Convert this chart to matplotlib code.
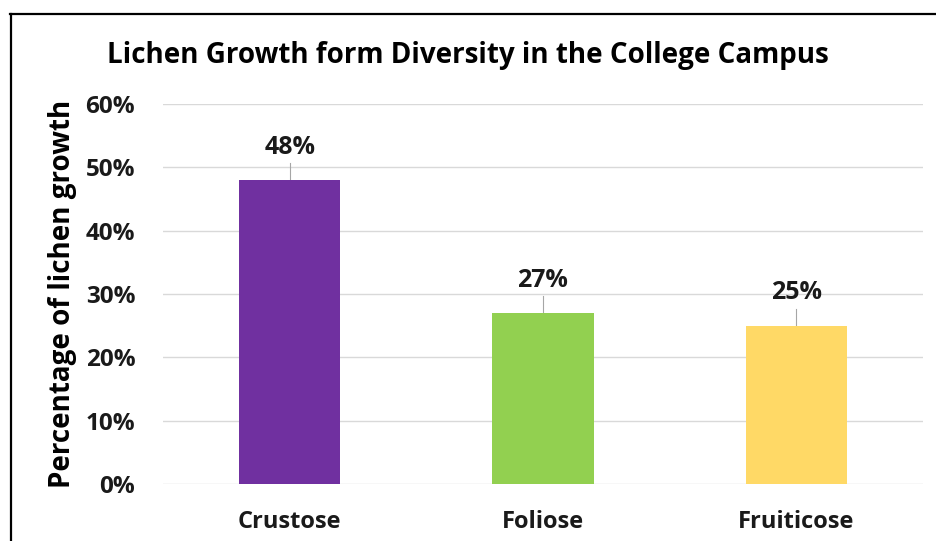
import matplotlib
matplotlib.use("Agg")
import matplotlib.pyplot as plt
from matplotlib.lines import Line2D
from matplotlib.ticker import FuncFormatter

categories = ["Crustose", "Foliose", "Fruiticose"]
values = [48, 27, 25]
colors = ["#7030A0", "#92D050", "#FFD966"]
yticks = [0, 10, 20, 30, 40, 50, 60]

plt.rcParams["font.family"] = ["Open Sans", "DejaVu Sans"]
plt.rcParams["font.weight"] = "bold"

fig = plt.figure(figsize=(9.36, 5.41), dpi=100)
ax = fig.add_axes([0.1741, 0.1054, 0.8120, 0.7024])

x = range(len(categories))
ax.bar(x, values, width=0.4, color=colors, zorder=3)

# data labels with small leader lines
for xi, v in zip(x, values):
    ax.plot([xi, xi], [v, v + 2.7], color="#a6a6a6", lw=0.8, zorder=2)
    ax.text(xi, v + 5.2, "%d%%" % v, ha="center", va="center",
            fontsize=18, fontweight="bold", color="#1a1a1a")

ax.set_xlim(-0.5, 2.5)
ax.set_ylim(0, 60)
ax.set_yticks(yticks)
ax.yaxis.set_major_formatter(FuncFormatter(lambda v, p: "%d%%" % v))
ax.set_xticks(list(x))
ax.set_xticklabels(categories)
ax.grid(axis="y", color="#d9d9d9", lw=1, zorder=0)
for s in ax.spines.values():
    s.set_visible(False)
ax.tick_params(axis="y", length=0, labelsize=17.5, colors="#1a1a1a", pad=20)
ax.tick_params(axis="x", length=0, labelsize=17, colors="#1a1a1a", pad=19)

ax.set_ylabel("Percentage of lichen growth", fontsize=20, fontweight="bold",
              color="black", labelpad=6)
fig.text(0.5, 1 - 55 / 541, "Lichen Growth form Diversity in the College Campus",
         ha="center", va="center", fontsize=20, fontweight="bold")

# chart-area border (left and top edges visible)
fig.add_artist(Line2D([10.5 / 936, 10.5 / 936], [0, 1 - 14 / 541],
                      transform=fig.transFigure, color="black", lw=1.6))
fig.add_artist(Line2D([10 / 936, 1], [1 - 14 / 541, 1 - 14 / 541],
                      transform=fig.transFigure, color="black", lw=1.6))

fig.savefig("out.png", dpi=100)
